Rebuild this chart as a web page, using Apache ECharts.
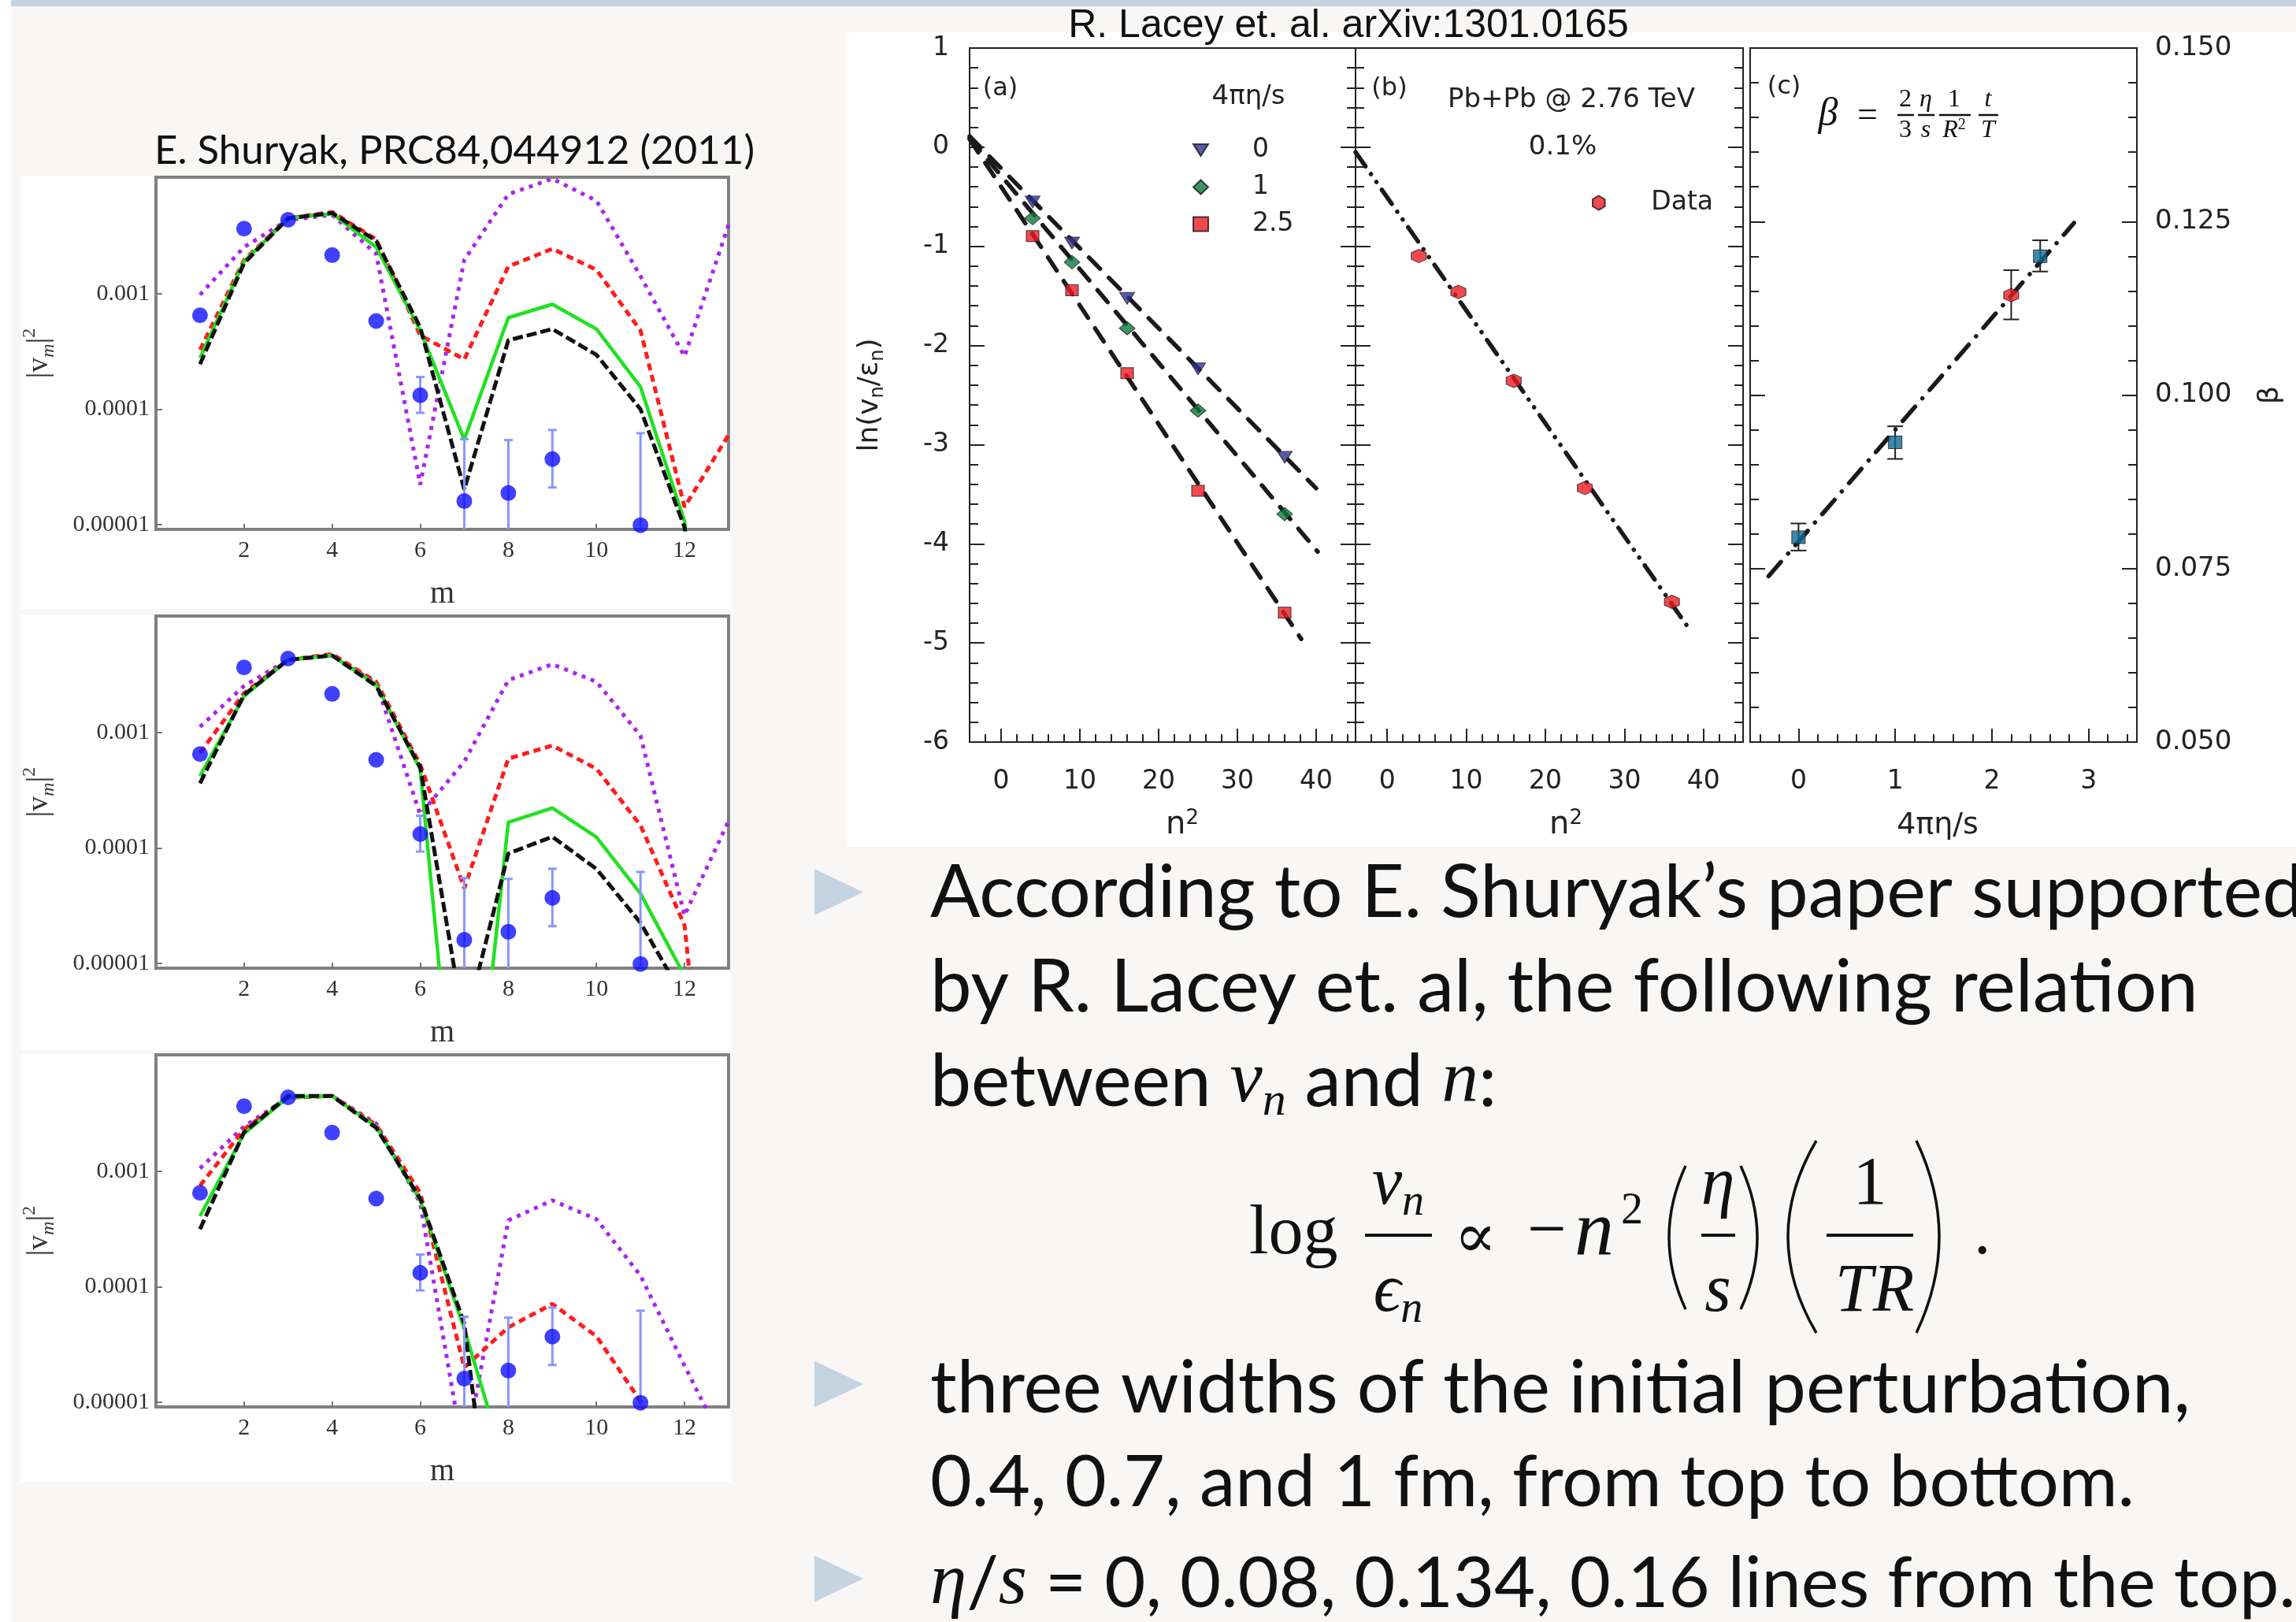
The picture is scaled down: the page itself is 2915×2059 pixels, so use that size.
<!DOCTYPE html>
<html>
<head>
<meta charset="utf-8">
<title>v_n vs n : Shuryak / Lacey</title>
<script src="https://cdn.jsdelivr.net/npm/echarts@6/dist/echarts.min.js"></script>
<style>
  html, body { margin: 0; padding: 0; background: #fff; }
  #chart { width: 2915px; height: 2059px; }
</style>
</head>
<body>
<div id="chart"></div>
<script>
// ---------- left column: |v_m|^2 vs m (E. Shuryak), widths 0.4 / 0.7 / 1 fm ----------
const mGrid = [1, 2, 3, 4, 5, 6, 7, 8, 9, 10, 11, 12, 13];
const mTicks = [2, 4, 6, 8, 10, 12];
const logTicks = [1e-5, 1e-4, 1e-3];

// width 0.4 fm, eta/s = 0, 0.08, 0.134, 0.16
const w04_eta000 = [9.8e-4, 2.53e-3, 4.36e-3, 4.8e-3, 2.22e-3, 2.22e-5, 1.96e-3, 7.26e-3, 9.9e-3, 6.4e-3, 1.42e-3, 2.87e-4, 3.95e-3];
const w04_eta008 = [3.27e-4, 1.96e-3, 4.5e-3, 5.1e-3, 2.96e-3, 4.36e-4, 2.7e-4, 1.72e-3, 2.45e-3, 1.61e-3, 4.8e-4, 1.42e-5, 6.0e-5];
const w04_eta134 = [2.78e-4, 1.9e-3, 4.5e-3, 4.94e-3, 2.53e-3, 4.8e-4, 5.45e-5, 6.2e-4, 8.1e-4, 4.94e-4, 1.56e-4, 1.07e-5, 1e-8];
const w04_eta160 = [2.45e-4, 1.84e-3, 4.5e-3, 5.0e-3, 2.87e-3, 5.1e-4, 2.02e-5, 3.95e-4, 4.94e-4, 2.96e-4, 1.0e-4, 9.5e-6, 1e-8];
// width 0.7 fm
const w07_eta000 = [1.12e-3, 2.53e-3, 4.26e-3, 4.65e-3, 2.68e-3, 1.95e-4, 5.6e-4, 2.84e-3, 3.9e-3, 2.75e-3, 9.4e-4, 2.6e-5, 1.71e-4];
const w07_eta008 = [6.67e-4, 2.19e-3, 4.26e-3, 4.78e-3, 2.75e-3, 5.28e-4, 4.47e-5, 5.94e-4, 7.7e-4, 4.85e-4, 1.57e-4, 2.14e-5, 5e-9];
const w07_eta134 = [4.2e-4, 2.06e-3, 4.26e-3, 4.65e-3, 2.6e-3, 4.8e-4, 5e-8, 1.67e-4, 2.22e-4, 1.24e-4, 4.02e-5, 7.8e-6, null];
const w07_eta160 = [3.63e-4, 2.12e-3, 4.26e-3, 4.65e-3, 2.53e-3, 5.0e-4, 2.8e-6, 8.95e-5, 1.25e-4, 6.58e-5, 2.25e-5, 4.9e-6, null];
// width 1 fm
const w10_eta000 = [1.06e-3, 2.44e-3, 4.36e-3, 4.49e-3, 2.59e-3, 5.3e-4, 3.2e-6, 3.76e-4, 5.6e-4, 3.85e-4, 1.25e-4, 2.07e-5, 3.6e-6];
const w10_eta008 = [7.5e-4, 2.31e-3, 4.36e-3, 4.49e-3, 2.52e-3, 6.5e-4, 2.0e-5, 4.45e-5, 7.1e-5, 3.72e-5, 1.02e-5, 1e-7, null];
const w10_eta134 = [4.09e-4, 2.12e-3, 4.36e-3, 4.49e-3, 2.44e-3, 5.6e-4, 4.32e-5, 2.3e-6, null, null, null, null, null];
const w10_eta160 = [3.15e-4, 2.18e-3, 4.49e-3, 4.49e-3, 2.38e-3, 5.8e-4, 4.8e-5, 4e-8, null, null, null, null, null];

// measured points (same in all three panels)
const obsM = [1, 2, 3, 4, 5, 6, 7, 8, 9, 11];
const obsV2 = [6.5e-4, 3.66e-3, 4.37e-3, 2.16e-3, 5.8e-4, 1.32e-4, 1.6e-5, 1.88e-5, 3.7e-5, 9.9e-6];
const errM = [6, 7, 8, 9, 11];
const errLo = [9.3e-5, 1e-7, 1e-7, 2.1e-5, 1e-7];
const errHi = [1.9e-4, 5.5e-5, 5.4e-5, 6.6e-5, 6.2e-5];

// ---------- right: R. Lacey et al. ----------
const n2 = [4, 9, 16, 25, 36];
const n2Major = [0, 10, 20, 30, 40];
const n2Minor = [-4, -2, 2, 4, 6, 8, 12, 14, 16, 18, 22, 24, 26, 28, 32, 34, 36, 38, 42, 44];
// (a) ln(vn/en), 4 pi eta/s = 0, 1, 2.5
const lnA_eta0 = [-0.552, -0.967, -1.525, -2.236, -3.127];
const lnA_eta1 = [-0.716, -1.159, -1.826, -2.656, -3.70];
const lnA_eta25 = [-0.897, -1.443, -2.279, -3.466, -4.695];
const fitA_eta0 = [[-4, 0.11], [40, -3.44]];
const fitA_eta1 = [[-4, 0.09], [40.2, -4.08]];
const fitA_eta25 = [[-4, 0.08], [38.1, -4.96]];
// (b) Pb+Pb data
const lnB_data = [-1.098, -1.46, -2.356, -3.438, -4.586];
const fitB = [[-4, -0.05], [38.2, -4.86]];
// (c) beta vs 4 pi eta/s
const etaMajor = [0, 1, 2, 3];
const etaMinor = [-0.4, -0.2, 0.2, 0.4, 0.6, 0.8, 1.2, 1.4, 1.6, 1.8, 2.2, 2.4, 2.6, 2.8, 3.2, 3.4];
const etaC = [0, 1, 2.5];
const betaC = [0.0795, 0.0932, 0.1200];
const betaC_lo = [0.0776, 0.0908, 0.1178];
const betaC_hi = [0.0815, 0.0955, 0.1223];
const etaHex = [2.2];
const betaHex = [0.1144];
const betaHex_lo = [0.1109];
const betaHex_hi = [0.1180];
const fitC = [[-0.31, 0.0739], [2.85, 0.1248]];

// ---------- styling ----------
const FONT_TXT = 'Lato, "Open Sans", sans-serif';
const FONT_MATH = '"Liberation Serif", "DejaVu Serif", serif';
const FONT_ROOT = '"DejaVu Sans", "Liberation Sans", sans-serif';
const hexPath = 'path://M50,0 L93.3,25 L93.3,75 L50,100 L6.7,75 L6.7,25 Z';
const downTriangle = 'path://M0,0 L20,0 L10,16 Z';

const chart = echarts.init(document.getElementById('chart'));

const leftGrids = [
  { left: 198, top: 225, width: 727, height: 447 },
  { left: 198, top: 782, width: 727, height: 447 },
  { left: 198, top: 1339, width: 727, height: 447 }
];
const leftCurves = [
  [w04_eta000, w04_eta008, w04_eta134, w04_eta160],
  [w07_eta000, w07_eta008, w07_eta134, w07_eta160],
  [w10_eta000, w10_eta008, w10_eta134, w10_eta160]
];
const curveStyles = [
  { color: '#aa24ee', type: [5, 7], width: 5 },
  { color: '#ff1c1c', type: [9, 6], width: 5 },
  { color: '#22e022', type: 'solid', width: 4.5 },
  { color: '#111111', type: [13, 5], width: 5 }
];

function errorBars(color, lw, capW) {
  return function (params, api) {
    const x = api.value(0);
    const pHi = api.coord([x, api.value(2)]);
    const pLo = api.coord([x, api.value(1)]);
    const cs = params.coordSys;
    const top = cs.y, bot = cs.y + cs.height;
    const clamp = v => Math.max(top, Math.min(bot, v));
    const st = { stroke: color, lineWidth: lw };
    const kids = [{ type: 'line', shape: { x1: pHi[0], y1: clamp(pHi[1]), x2: pHi[0], y2: clamp(pLo[1]) }, style: st }];
    [pHi, pLo].forEach(p => {
      if (p[1] >= top && p[1] <= bot) {
        kids.push({ type: 'line', shape: { x1: p[0] - capW / 2, y1: p[1], x2: p[0] + capW / 2, y2: p[1] }, style: st });
      }
    });
    return { type: 'group', children: kids };
  };
}

const noLine = { show: false, onZero: false };
const grids = [];
const xAxes = [];
const yAxes = [];
const series = [];

// left panels
leftGrids.forEach((g, gi) => {
  grids.push(Object.assign({ show: true, borderColor: '#808080', borderWidth: 4, backgroundColor: 'transparent' }, g));
  xAxes.push({
    gridIndex: gi, type: 'value', min: 0, max: 13, position: 'bottom',
    axisLine: noLine, splitLine: { show: false },
    axisTick: { inside: true, length: 7, customValues: mTicks, lineStyle: { color: '#777', width: 2 } },
    axisLabel: { customValues: mTicks, margin: 12, fontFamily: FONT_MATH, fontSize: 30, color: '#333' },
    name: 'm', nameLocation: 'middle', nameGap: 62,
    nameTextStyle: { fontFamily: FONT_MATH, fontSize: 40, color: '#333' }
  });
  yAxes.push({
    gridIndex: gi, type: 'log', min: 9.1e-6, max: 0.0102, position: 'left',
    axisLine: noLine, splitLine: { show: false }, minorTick: { show: false },
    axisTick: { inside: true, length: 8, customValues: logTicks, lineStyle: { color: '#777', width: 2 } },
    axisLabel: {
      customValues: logTicks, margin: 8, fontFamily: FONT_MATH, fontSize: 30, color: '#333',
      formatter: v => v.toFixed(Math.round(-Math.log10(v)))
    },
    name: '{a||v}{s|m}{a||}{p|2}', nameLocation: 'middle', nameGap: 124,
    nameTextStyle: {
      fontFamily: FONT_MATH, fontSize: 38, color: '#333', lineHeight: 48,
      rich: {
        a: { fontFamily: FONT_MATH, fontSize: 38, color: '#333', lineHeight: 48 },
        s: { fontFamily: FONT_MATH, fontSize: 24, fontStyle: 'italic', color: '#333', verticalAlign: 'bottom', lineHeight: 24 },
        p: { fontFamily: FONT_MATH, fontSize: 24, color: '#333', verticalAlign: 'top', lineHeight: 24 }
      }
    }
  });
  leftCurves[gi].forEach((arr, k) => {
    series.push({
      type: 'line', name: 'w' + gi + '-' + k, xAxisIndex: gi, yAxisIndex: gi,
      data: mGrid.map((m, i) => [m, arr[i]]), showSymbol: false, symbol: 'none',
      clip: true, z: 2 + k,
      lineStyle: { color: curveStyles[k].color, type: curveStyles[k].type, width: curveStyles[k].width, cap: 'butt' }
    });
  });
  series.push({
    type: 'custom', name: 'err' + gi, xAxisIndex: gi, yAxisIndex: gi, z: 7,
    data: errM.map((m, i) => [m, errLo[i], errHi[i]]),
    encode: { x: 0, y: [1, 2] },
    renderItem: errorBars('#8896ff', 3, 11)
  });
  series.push({
    type: 'scatter', name: 'obs' + gi, xAxisIndex: gi, yAxisIndex: gi, z: 8,
    data: obsM.map((m, i) => [m, obsV2[i]]), symbol: 'circle', symbolSize: 20,
    itemStyle: { color: '#1010ff' }
  });
});

// right panels
const rightGrids = [
  { left: 1231, top: 61, width: 490, height: 881 },
  { left: 1721, top: 61, width: 492, height: 881 },
  { left: 2222, top: 61, width: 491, height: 881 }
];
const rootLabel = { fontFamily: FONT_ROOT, fontSize: 33, color: '#222' };
const tickLine = { color: '#222', width: 2 };
rightGrids.forEach(g => grids.push(Object.assign({ show: true, borderColor: '#222', borderWidth: 2, backgroundColor: 'transparent' }, g)));

function majorX(gi, min, max, vals, name, rich, pad) {
  return {
    gridIndex: gi, type: 'value', min, max, position: 'bottom',
    axisLine: noLine, splitLine: { show: false },
    axisTick: { inside: true, length: 17, customValues: vals, lineStyle: tickLine },
    axisLabel: Object.assign({ customValues: vals, margin: 34 }, rootLabel),
    name, nameLocation: 'middle', nameGap: 84,
    nameTextStyle: { fontFamily: FONT_ROOT, fontSize: 38, color: '#222', lineHeight: 44, padding: pad, rich }
  };
}
function minorX(gi, min, max, vals) {
  return {
    gridIndex: gi, type: 'value', min, max, position: 'bottom',
    axisLine: noLine, splitLine: { show: false }, axisLabel: { show: false },
    axisTick: { inside: true, length: 10, customValues: vals, lineStyle: tickLine }
  };
}
function sideY(gi, pos, min, max, interval, labelOpt, extra) {
  return Object.assign({
    gridIndex: gi, type: 'value', min, max, interval, position: pos,
    axisLine: noLine, splitLine: { show: false }, minorSplitLine: { show: false },
    axisTick: { inside: true, length: 19, lineStyle: tickLine },
    minorTick: { show: true, splitNumber: 5, length: 11, lineStyle: tickLine },
    axisLabel: labelOpt
  }, extra || {});
}
const n2Rich = {
  t: { fontFamily: FONT_ROOT, fontSize: 40, color: '#222', lineHeight: 44 },
  p: { fontFamily: FONT_ROOT, fontSize: 26, color: '#222', verticalAlign: 'top', lineHeight: 26 }
};

// (a) grid 3 : x axes 3,4 ; y axes 3,4
xAxes.push(majorX(3, -4, 45, n2Major, '{t|n}{p|2}', n2Rich, [0, 0, 0, 50]));
xAxes.push(minorX(3, -4, 45, n2Minor));
yAxes.push(sideY(3, 'left', -6, 1, 1, Object.assign({ margin: 26 }, rootLabel), {
  name: '{t|ln(v}{s|n}{t|/ε}{s|n}{t|)}', nameLocation: 'middle', nameGap: 104,
  nameTextStyle: {
    fontFamily: FONT_ROOT, fontSize: 36, color: '#222', lineHeight: 44,
    rich: {
      t: { fontFamily: FONT_ROOT, fontSize: 36, color: '#222', lineHeight: 44 },
      s: { fontFamily: FONT_ROOT, fontSize: 24, color: '#222', verticalAlign: 'bottom', lineHeight: 24 }
    }
  }
}));
yAxes.push(sideY(3, 'right', -6, 1, 1, { show: false }));
// (b) grid 4 : x axes 5,6 ; y axes 5,6
xAxes.push(majorX(4, -4, 45, n2Major, '{t|n}{p|2}', n2Rich, [0, 0, 0, 42]));
xAxes.push(minorX(4, -4, 45, n2Minor));
yAxes.push(sideY(4, 'left', -6, 1, 1, { show: false }));
yAxes.push(sideY(4, 'right', -6, 1, 1, { show: false }));
// (c) grid 5 : x axes 7,8 ; y axes 7,8
xAxes.push(majorX(5, -0.5, 3.5, etaMajor, '4πη/s', null, [0, 15, 0, 0]));
xAxes.push(minorX(5, -0.5, 3.5, etaMinor));
yAxes.push(sideY(5, 'left', 0.05, 0.15, 0.025, { show: false }));
yAxes.push(sideY(5, 'right', 0.05, 0.15, 0.025,
  Object.assign({ margin: 23, formatter: v => v.toFixed(3) }, rootLabel, { fontSize: 34 }), {
    name: 'β', nameLocation: 'middle', nameGap: 152, nameRotate: 90,
    nameTextStyle: { fontFamily: FONT_ROOT, fontSize: 36, color: '#222' }
  }));

const fitStyle = (type) => ({ color: '#1a1a1a', width: 5.5, type, cap: 'round' });

// (a) fits and points
[fitA_eta0, fitA_eta1, fitA_eta25].forEach((f, k) => series.push({
  type: 'line', name: 'fitA' + k, xAxisIndex: 3, yAxisIndex: 3, data: f,
  showSymbol: false, symbol: 'none', z: 3, lineStyle: fitStyle([20, 16])
}));
series.push({
  type: 'scatter', name: '0', xAxisIndex: 3, yAxisIndex: 3, z: 6,
  data: n2.map((x, i) => [x, lnA_eta0[i]]), symbol: 'triangle', symbolRotate: 180, symbolSize: [19, 15],
  itemStyle: { color: '#2e3192', borderColor: '#1a1a1a', borderWidth: 1 }
});
series.push({
  type: 'scatter', name: '1', xAxisIndex: 3, yAxisIndex: 3, z: 6,
  data: n2.map((x, i) => [x, lnA_eta1[i]]), symbol: 'diamond', symbolSize: [20, 17],
  itemStyle: { color: '#0e7a3c', borderColor: '#1a1a1a', borderWidth: 1 }
});
series.push({
  type: 'scatter', name: '2.5', xAxisIndex: 3, yAxisIndex: 3, z: 6,
  data: n2.map((x, i) => [x, lnA_eta25[i]]), symbol: 'rect', symbolSize: [16, 14],
  itemStyle: { color: '#ee1c24', borderColor: '#1a1a1a', borderWidth: 1 }
});
// (b)
series.push({
  type: 'line', name: 'fitB', xAxisIndex: 5, yAxisIndex: 5, data: fitB,
  showSymbol: false, symbol: 'none', z: 3, lineStyle: fitStyle([22, 12, 0.1, 12, 0.1, 12])
});
series.push({
  type: 'scatter', name: 'Data', xAxisIndex: 5, yAxisIndex: 5, z: 6,
  data: n2.map((x, i) => [x, lnB_data[i]]), symbol: hexPath, symbolSize: [19, 17],
  itemStyle: { color: '#ee1c24', borderColor: '#1a1a1a', borderWidth: 1 }
});
// (c)
series.push({
  type: 'line', name: 'fitC', xAxisIndex: 7, yAxisIndex: 7, data: fitC,
  showSymbol: false, symbol: 'none', z: 3, lineStyle: fitStyle([24, 14, 0.1, 14])
});
series.push({
  type: 'custom', name: 'errC', xAxisIndex: 7, yAxisIndex: 7, z: 5,
  data: etaC.map((x, i) => [x, betaC_lo[i], betaC_hi[i]]).concat(etaHex.map((x, i) => [x, betaHex_lo[i], betaHex_hi[i]])),
  encode: { x: 0, y: [1, 2] },
  renderItem: errorBars('#222', 2, 20)
});
series.push({
  type: 'scatter', name: 'beta', xAxisIndex: 7, yAxisIndex: 7, z: 6,
  data: etaC.map((x, i) => [x, betaC[i]]), symbol: 'rect', symbolSize: [17, 16],
  itemStyle: { color: '#0f6a93', borderColor: '#1a1a1a', borderWidth: 1 }
});
series.push({
  type: 'scatter', name: 'betaData', xAxisIndex: 7, yAxisIndex: 7, z: 6,
  data: etaHex.map((x, i) => [x, betaHex[i]]), symbol: hexPath, symbolSize: [19, 17],
  itemStyle: { color: '#ee1c24', borderColor: '#1a1a1a', borderWidth: 1 }
});

// ---------- slide decoration and text ----------
const txt = (x, y, text, style) => ({
  type: 'text', x, y, silent: true,
  style: Object.assign({ text, fill: '#111', align: 'left', verticalAlign: 'middle' }, style)
});
const hline = (x1, x2, y, w) => ({ type: 'line', silent: true, shape: { x1, y1: y, x2, y2: y }, style: { stroke: '#111', lineWidth: w } });
const paren = (x, y1, y2, cpx) => ({
  type: 'bezierCurve', silent: true,
  shape: { x1: x, y1, x2: x, y2, cpx1: cpx, cpy1: (y1 + y2) / 2 },
  style: { stroke: '#111', lineWidth: 3.5, fill: null }
});
const rect = (x, y, w, h, fill, z) => ({ type: 'rect', silent: true, z, shape: { x, y, width: w, height: h }, style: { fill } });
const bullet = (cy) => ({ type: 'polygon', silent: true, shape: { points: [[1034, cy - 29.5], [1096, cy], [1034, cy + 29.5]] }, style: { fill: '#c6d4e2' } });

const body = { fontFamily: FONT_TXT, fontSize: 94 };
const bodyRich = {
  i: { fontFamily: FONT_MATH, fontStyle: 'italic', fontSize: 93, lineHeight: 110 },
  sub: { fontFamily: FONT_MATH, fontStyle: 'italic', fontSize: 60, verticalAlign: 'bottom', lineHeight: 60 }
};
const mathI = { fontFamily: FONT_MATH, fontStyle: 'italic', fontSize: 86, align: 'center' };
const mathRich = {
  i: { fontFamily: FONT_MATH, fontStyle: 'italic', fontSize: 86, lineHeight: 100 },
  sub: { fontFamily: FONT_MATH, fontStyle: 'italic', fontSize: 56, verticalAlign: 'bottom', lineHeight: 56 }
};
const rootTxt = { fontFamily: FONT_ROOT, fontSize: 32, fill: '#222' };
const cI = { fontFamily: FONT_MATH, fontStyle: 'italic', fontSize: 32, align: 'center', fill: '#111' };
const cU = { fontFamily: FONT_MATH, fontSize: 32, align: 'center', fill: '#111' };

const deco = [
  rect(14, 0, 2901, 2059, '#f8f7f5', -100),
  rect(14, 0, 2901, 8, '#c5d3e1', -99),
  rect(27, 223, 901, 550, '#ffffff', -98),
  rect(27, 781, 901, 552, '#ffffff', -98),
  rect(27, 1338, 901, 543, '#ffffff', -98),
  rect(1076, 41, 1839, 1034, '#ffffff', -98),

  txt(196, 192, 'E. Shuryak, PRC84,044912 (2011)', { fontFamily: FONT_TXT, fontSize: 51 }),
  txt(1712, 33, 'R. Lacey et. al. arXiv:1301.0165', { fontFamily: '"Liberation Sans", Arial, sans-serif', fontSize: 50, align: 'center' }),

  txt(1270, 113, '(a)', Object.assign({ align: 'center' }, rootTxt)),
  txt(1585, 123, '4πη/s', Object.assign({ align: 'center' }, rootTxt, { fontSize: 34 })),
  txt(1764, 113, '(b)', Object.assign({ align: 'center' }, rootTxt)),
  txt(1995, 127, 'Pb+Pb @ 2.76 TeV', Object.assign({ align: 'center' }, rootTxt, { fontSize: 34 })),
  txt(1984, 187, '0.1%', Object.assign({ align: 'center' }, rootTxt, { fontSize: 34 })),
  txt(2265, 111, '(c)', Object.assign({ align: 'center' }, rootTxt)),

  // beta = (2/3)(eta/s)(1/R^2)(t/T)
  txt(2321, 146, 'β', { fontFamily: FONT_MATH, fontStyle: 'italic', fontSize: 50, align: 'center' }),
  txt(2371, 148, '=', { fontFamily: FONT_MATH, fontSize: 46, align: 'center' }),
  txt(2419, 127, '2', cU), hline(2409, 2430, 146, 2.5), txt(2419, 166, '3', cU),
  txt(2445, 127, 'η', cI), hline(2435, 2456, 146, 2.5), txt(2445, 166, 's', cI),
  txt(2481, 127, '1', cU), hline(2462, 2502, 146, 2.5),
  txt(2481, 166, '{r|R}{q|2}', Object.assign({}, cU, { rich: { r: { fontFamily: FONT_MATH, fontStyle: 'italic', fontSize: 32, lineHeight: 34 }, q: { fontFamily: FONT_MATH, fontSize: 20, verticalAlign: 'top', lineHeight: 20 } } })),
  txt(2524, 127, 't', cI), hline(2512, 2537, 146, 2.5), txt(2524, 166, 'T', cI),

  // bullets and body text
  bullet(1132.5), bullet(1757), bullet(2004),
  txt(1181, 1134, 'According to E. Shuryak’s paper supported', body),
  txt(1181, 1254, 'by R. Lacey et. al, the following relation', body),
  txt(1181, 1374, 'between {i|v}{sub|n} and {i|n}:', Object.assign({ rich: bodyRich, lineHeight: 110 }, body, { fontSize: 93 })),
  txt(1181, 1763, 'three widths of the initial perturbation,', body),
  txt(1181, 1883, '0.4, 0.7, and 1 fm, from top to bottom.', Object.assign({}, body, { fontSize: 91 })),
  txt(1181, 2011, '{i|η}/{i|s} = 0, 0.08, 0.134, 0.16 lines from the top.', Object.assign({ rich: bodyRich, lineHeight: 110 }, body, { fontSize: 90 })),

  // log vn/en ∝ −n² (η/s)(1/TR).
  txt(1586, 1568, 'log', { fontFamily: FONT_MATH, fontSize: 88 }),
  txt(1775, 1505, '{i|v}{sub|n}', Object.assign({ rich: mathRich, lineHeight: 100 }, mathI)),
  hline(1733, 1818, 1568, 4),
  txt(1775, 1641, '{i|ϵ}{sub|n}', Object.assign({ rich: mathRich, lineHeight: 100 }, mathI)),
  txt(1873, 1575, '∝', { fontFamily: FONT_MATH, fontSize: 80, align: 'center' }),
  txt(1964, 1566, '−', { fontFamily: FONT_MATH, fontSize: 88, align: 'center' }),
  txt(2024, 1566, 'n', { fontFamily: FONT_MATH, fontStyle: 'italic', fontSize: 100, align: 'center' }),
  txt(2058, 1538, '2', { fontFamily: FONT_MATH, fontSize: 56 }),
  paren(2140, 1480, 1662, 2098), paren(2210, 1480, 1662, 2252),
  txt(2181, 1505, 'η', mathI), hline(2160, 2203, 1568, 4), txt(2181, 1641, 's', mathI),
  paren(2306, 1448, 1692, 2234), paren(2433, 1448, 1692, 2491),
  txt(2374, 1505, '1', Object.assign({}, mathI, { fontStyle: 'normal' })), hline(2319, 2429, 1568, 4),
  txt(2380, 1641, 'TR', mathI),
  txt(2506, 1568, '.', { fontFamily: FONT_MATH, fontSize: 86 })
];

const legendText = { fontFamily: FONT_ROOT, fontSize: 33, color: '#222' };

chart.setOption({
  animation: false,
  backgroundColor: '#ffffff',
  textStyle: { fontFamily: FONT_ROOT },
  grid: grids,
  xAxis: xAxes,
  yAxis: yAxes,
  legend: [
    {
      data: [{ name: '0', icon: downTriangle }, { name: '1' }, { name: '2.5' }],
      orient: 'vertical', left: 1514, top: 174, padding: 0,
      itemWidth: 19, itemHeight: 18, itemGap: 14, selectedMode: false,
      textStyle: Object.assign({ padding: [0, 0, 0, 51] }, legendText)
    },
    {
      data: ['Data'], orient: 'vertical', left: 2021, top: 241, padding: 0,
      itemWidth: 19, itemHeight: 18, selectedMode: false,
      textStyle: Object.assign({ padding: [0, 0, 0, 52] }, legendText)
    }
  ],
  graphic: { elements: deco },
  series
});
</script>
</body>
</html>
